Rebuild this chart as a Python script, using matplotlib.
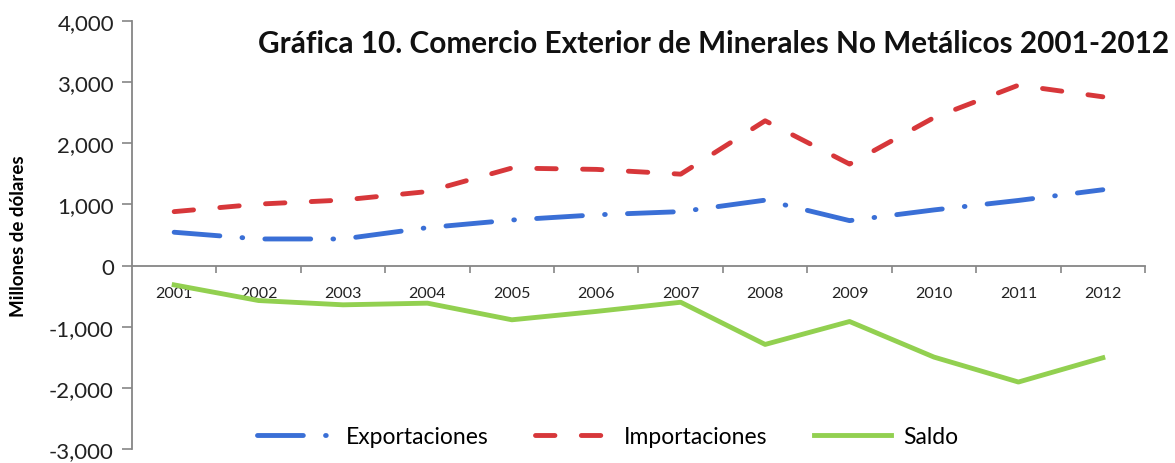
import matplotlib
matplotlib.use("Agg")
import matplotlib.pyplot as plt
import numpy as np

plt.rcParams['font.family'] = ['Lato', 'DejaVu Sans']
plt.rcParams['lines.scale_dashes'] = False

years = ['2001', '2002', '2003', '2004', '2005', '2006',
         '2007', '2008', '2009', '2010', '2011', '2012']
exportaciones = [545, 435, 435, 620, 745, 830, 882, 1070, 735, 910, 1065, 1240]
importaciones = [882, 1005, 1072, 1210, 1595, 1573, 1495, 2368, 1660, 2420, 2950, 2760]
saldo = [-316, -572, -642, -615, -887, -750, -600, -1290, -915, -1497, -1905, -1508]

fig = plt.figure(figsize=(11.75, 4.64), dpi=100)
ax = fig.add_axes([0.1123, 0.0302, 0.8622, 0.9224])

x = np.arange(len(years)) + 0.5
ax.plot(x, exportaciones, color='#3a6fd6', lw=3.5, dashes=(33, 16, 0.5, 16),
        dash_capstyle='round', label='Exportaciones')
ax.plot(x, importaciones, color='#d7373a', lw=3.5, dashes=(14, 19),
        dash_capstyle='round', label='Importaciones')
ax.plot(x, saldo, color='#92d050', lw=3.5, solid_joinstyle='round',
        label='Saldo')

ax.set_xlim(0, len(years))
ax.set_ylim(-3000, 4000)
ax.set_yticks(range(-3000, 4001, 1000))
ax.set_yticklabels([f'{v:,}' for v in range(-3000, 4001, 1000)], fontsize=16,
                   color='#222222')
ax.tick_params(axis='y', direction='out', length=7, width=1.2, color='#868686', pad=6)

ax.spines['top'].set_visible(False)
ax.spines['right'].set_visible(False)
ax.spines['bottom'].set_position(('data', 0))
for s in ('left', 'bottom'):
    ax.spines[s].set_color('#868686')
    ax.spines[s].set_linewidth(1.3)

ax.set_xticks(np.arange(1, len(years) + 1))
ax.set_xticklabels([])
ax.tick_params(axis='x', which='major', direction='out', length=5, width=1.2,
               color='#868686')
ax.set_xticks(x, minor=True)
ax.set_xticklabels(years, minor=True, fontsize=11.5, color='#222222')
ax.tick_params(axis='x', which='minor', length=0, pad=15)

fig.text(0.016, 0.491, 'Millones de dólares', rotation=90, fontsize=13.5,
         fontweight='bold', ha='center', va='center')
fig.text(0.607, 0.905, 'Gráfica 10. Comercio Exterior de Minerales No Metálicos 2001-2012',
         fontsize=21.4, fontweight='bold', ha='center', va='center', color='#111111')

ax.legend(loc='center', bbox_to_anchor=(0.517, 0.058), bbox_transform=fig.transFigure,
          ncol=3, frameon=False, fontsize=16.5, handlelength=3.4, handletextpad=0.5,
          columnspacing=2.0)

fig.savefig('out.png', dpi=100)
